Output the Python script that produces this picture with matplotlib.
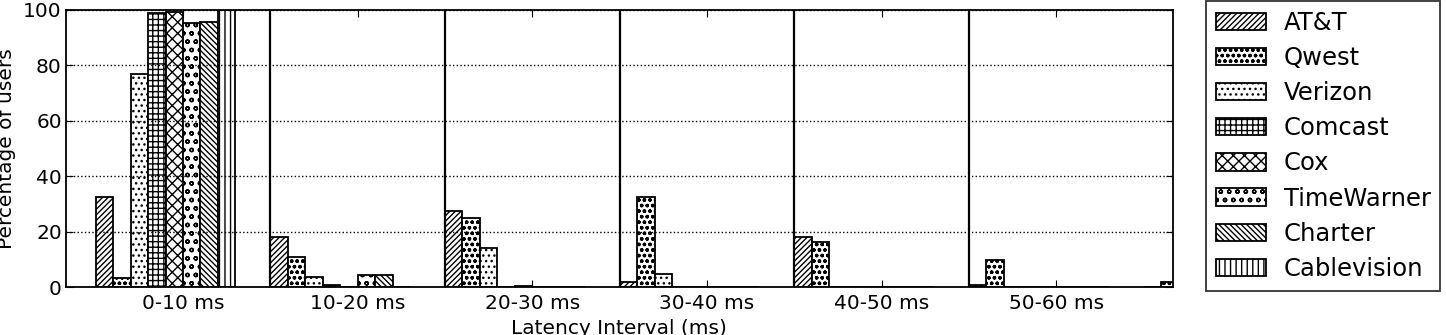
import numpy as np
import matplotlib
matplotlib.use("Agg")
import matplotlib.pyplot as plt

# latency intervals (last one is only partly visible at the right edge)
intervals = ["0-10 ms", "10-20 ms", "20-30 ms", "30-40 ms", "40-50 ms", "50-60 ms", "60-70 ms"]
isps = ["AT&T", "Qwest", "Verizon", "Comcast", "Cox", "TimeWarner", "Charter", "Cablevision"]

att = [32.7, 18.3, 27.6, 2.1, 18.3, 1.0, 0.0]
qwest = [3.5, 10.9, 24.9, 32.5, 16.3, 9.9, 2.0]
verizon = [76.8, 3.7, 14.1, 4.9, 0.3, 0.3, 0.0]
comcast = [99.0, 0.8, 0.0, 0.0, 0.0, 0.0, 0.0]
cox = [99.3, 0.0, 0.6, 0.0, 0.0, 0.0, 0.0]
timewarner = [95.2, 4.4, 0.0, 0.0, 0.0, 0.0, 0.0]
charter = [95.5, 4.5, 0.0, 0.0, 0.0, 0.0, 0.0]
cablevision = [100.0, 0.0, 0.0, 0.0, 0.0, 0.0, 0.0]

series = [att, qwest, verizon, comcast, cox, timewarner, charter, cablevision]
hatches = ["//////", "ooo", "...", "+++", "xxx", "oo", "\\\\\\\\\\\\", "|||"]

plt.rcParams['font.family'] = ['DejaVu Sans']
plt.rcParams['hatch.linewidth'] = 1.0

fig = plt.figure(figsize=(14.46, 3.35), dpi=100)
ax = fig.add_axes([0.0456, 0.1418, 0.7655, 0.8284])

x = np.arange(len(intervals))
width = 0.1
for k, (vals, name) in enumerate(zip(series, isps)):
    ax.bar(x - 0.5 + k * width, vals, width, align='edge', color='white',
           edgecolor='black', linewidth=1.3, hatch=hatches[k], label=name)

# group separators
for sep in x[:5] + 0.5:
    ax.axvline(sep, color='black', linewidth=1.6)

ax.set_yticks([0, 20, 40, 60, 80, 100])
ax.set_xticks(x[:6])
ax.set_xticklabels(intervals[:6])
ax.set_xlim(-0.67, 5.667)
ax.set_ylim(0, 100)
ax.yaxis.grid(True, linestyle=':', color='black', linewidth=1.0)
ax.tick_params(axis='both', direction='in', top=True, right=True, labelsize=14.5, length=5)
ax.tick_params(axis='x', pad=5)
ax.tick_params(axis='y', pad=3)
for s in ax.spines.values():
    s.set_linewidth(1.3)

ax.set_xlabel("Latency Interval (ms)", fontsize=14.5, labelpad=4)
ax.set_ylabel("Percentage of users", fontsize=14.5)
ax.yaxis.set_label_coords(-0.045, 0.5)

leg = ax.legend(loc='upper left', bbox_to_anchor=(0.834, 0.997), bbox_transform=fig.transFigure,
                fontsize=17.5, handlelength=2.05, handleheight=0.72, labelspacing=0.46,
                handletextpad=0.75, fancybox=False, edgecolor='black', borderaxespad=0,
                borderpad=0.4)
leg.get_frame().set_linewidth(1.3)

fig.savefig("out.png", dpi=100)
